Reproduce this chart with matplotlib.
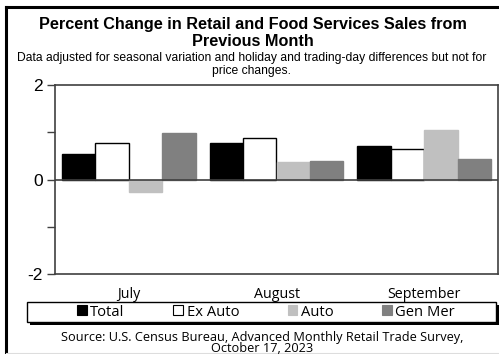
import numpy as np
import matplotlib.pyplot as plt
from matplotlib.patches import Patch, Rectangle
from matplotlib.lines import Line2D

months = ["July", "August", "September"]
series = ["Total", "Ex Auto", "Auto", "Gen Mer"]
total = [0.54, 0.78, 0.70]
ex_auto = [0.78, 0.87, 0.65]
auto = [-0.27, 0.38, 1.04]
gen_mer = [0.99, 0.40, 0.44]

values = [total, ex_auto, auto, gen_mer]
faces = ["black", "white", "#c0c0c0", "#808080"]
edges = ["black", "black", "#c0c0c0", "#808080"]

W, H = 499, 354
fig = plt.figure(figsize=(W / 100, H / 100), dpi=100)

ax = fig.add_axes([55 / W, 80 / H, 443 / W, 189 / H])
x = np.arange(len(months))
w = 0.226
for i, (vals, fc, ec) in enumerate(zip(values, faces, edges)):
    ax.bar(x + (i - 1.5) * w, vals, w, color=fc, edgecolor=ec, linewidth=1.0, zorder=2)

ax.axhline(0, color="#404040", lw=1.2, zorder=3)
ax.set_xlim(-0.5, 2.5)
ax.set_ylim(-2, 2)
ax.set_yticks([-2, 0, 2])
ax.set_yticklabels(["-2", "0", "2"], fontsize=12.5, family="Liberation Sans")
ax.set_yticks([-1, 1], minor=True)
ax.tick_params(axis="y", which="both", direction="out", length=6, width=1, color="#404040", pad=3)
ax.set_xticks(x)
ax.set_xticklabels(months, fontsize=10.3, family="Open Sans")
ax.tick_params(axis="x", length=0, pad=9)
for s in ax.spines.values():
    s.set_color("#404040")
    s.set_linewidth(1.2)

fig.text(253 / W, 1 - 25 / H, "Percent Change in Retail and Food Services Sales from",
         ha="center", va="center", fontsize=11.7, fontweight="bold", family="Liberation Sans")
fig.text(253 / W, 1 - 42 / H, "Previous Month",
         ha="center", va="center", fontsize=11.7, fontweight="bold", family="Liberation Sans")
fig.text(252 / W, 1 - 58 / H,
         "Data adjusted for seasonal variation and holiday and trading-day differences but not for",
         ha="center", va="center", fontsize=8.7, family="Liberation Sans")
fig.text(252 / W, 1 - 71 / H, "price changes.",
         ha="center", va="center", fontsize=8.7, family="Liberation Sans")

# legend frame with solid shadow
lx0, lx1, ly0, ly1 = 27, 496, 302, 322
fig.add_artist(Rectangle(((lx0 + 3) / W, 1 - (ly1 + 3) / H), (lx1 - lx0) / W, (ly1 - ly0) / H,
                         transform=fig.transFigure, facecolor="black", edgecolor="black", lw=0))
fig.add_artist(Rectangle((lx0 / W, 1 - ly1 / H), (lx1 - lx0) / W, (ly1 - ly0) / H,
                         transform=fig.transFigure, facecolor="white", edgecolor="black", lw=1.0))

handles = [Patch(facecolor=fc, edgecolor=ec, linewidth=0.8) for fc, ec in zip(faces, edges)]
leg = fig.legend(handles, series, loc="center", ncol=4, frameon=False,
                 bbox_to_anchor=(266 / W, 1 - 312 / H),
                 handlelength=0.65, handleheight=0.65, handletextpad=0.25, columnspacing=3.3,
                 prop={"family": "Open Sans", "size": 10.6}, borderpad=0)

fig.text(262 / W, 1 - 337 / H, "Source: U.S. Census Bureau, Advanced Monthly Retail Trade Survey,",
         ha="center", va="center", fontsize=9.2, family="Open Sans")
fig.text(262 / W, 1 - 349 / H, "October 17, 2023",
         ha="center", va="center", fontsize=9.2, family="Open Sans")

# page border
fig.add_artist(Line2D([6 / W, 6 / W], [0, 1 - 7 / H], color="black", lw=2.2))
fig.add_artist(Line2D([6 / W, 1], [1 - 7 / H, 1 - 7 / H], color="black", lw=2.2))
fig.add_artist(Line2D([6 / W, 1], [1 - 352.5 / H, 1 - 352.5 / H], color="#dddddd", lw=0.8))

fig.savefig("out.png", dpi=100)
